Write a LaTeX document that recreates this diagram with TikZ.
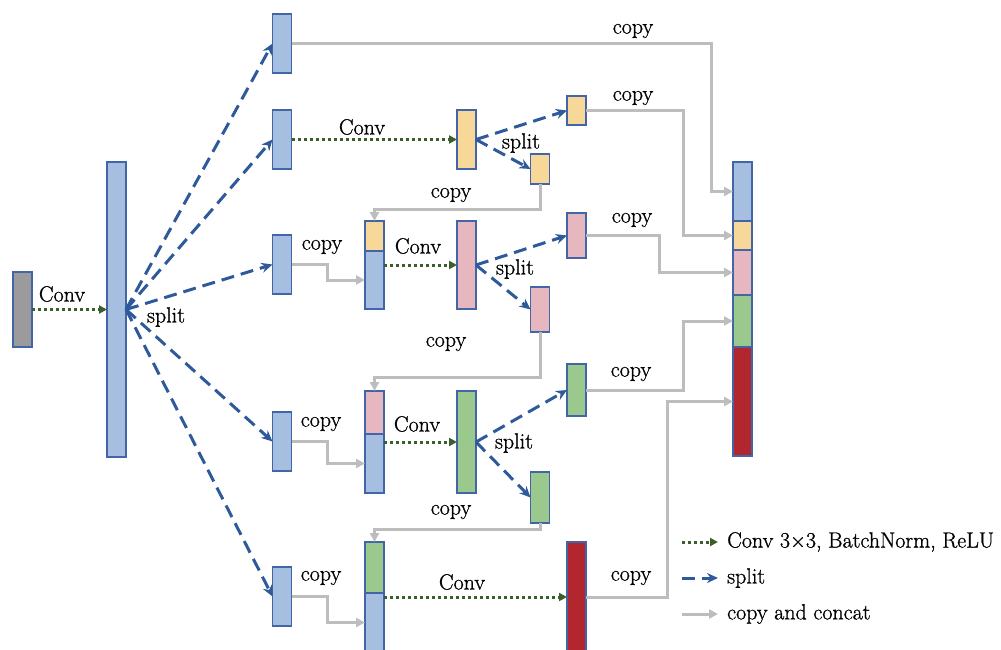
\documentclass[tikz,border=0pt]{standalone}
\usepackage{fontspec}
\setmainfont{Latin Modern Roman}[FakeBold=0.9]
\usetikzlibrary{arrows.meta}
\definecolor{bfill}{HTML}{A6BEDF}
\definecolor{bord}{HTML}{4264A8}
\definecolor{yfill}{HTML}{F8D898}
\definecolor{pfill}{HTML}{E6B7BF}
\definecolor{gfill}{HTML}{9BC88D}
\definecolor{rfill}{HTML}{B2262E}
\definecolor{kfill}{HTML}{9B9B9B}
\definecolor{cvcol}{HTML}{3A5F2A}
\definecolor{spcol}{HTML}{2E5A9C}
\definecolor{cpcol}{HTML}{BDBDBD}
\begin{document}
\begin{tikzpicture}[x=1pt,y=-1pt,
  font=\fontsize{22}{26}\selectfont,
  blk/.style={draw=bord, line width=1.3pt, inner sep=0pt, outer sep=0pt, minimum width=19pt},
  lbl/.style={inner sep=0pt},
  cp/.style={draw=cpcol, line width=3pt, -{Triangle[length=9pt,width=9pt]}},
  sp/.style={draw=spcol, line width=3pt, dash pattern=on 13pt off 7pt, -{Stealth[length=11pt,width=10pt]}},
  cv/.style={draw=cvcol, line width=3pt, dash pattern=on 3pt off 3pt, -{Triangle[length=8pt,width=8pt]}}]
\useasboundingbox (0,0) rectangle (1001,650);
% input and first conv
\node[blk, fill=kfill, minimum height=75pt] (G) at (22.5,309.5) {};
\node[blk, fill=bfill, minimum height=295pt] (big) at (116.5,309.5) {};
% split outputs
\node[blk, fill=bfill, minimum height=59pt] (A) at (282,43.5) {};
\node[blk, fill=bfill, minimum height=59pt] (B) at (282,139.5) {};
\node[blk, fill=bfill, minimum height=59pt] (C) at (282,264.5) {};
\node[blk, fill=bfill, minimum height=59pt] (D) at (282,441.5) {};
\node[blk, fill=bfill, minimum height=59pt] (E) at (282,596.5) {};
% yellow stage
\node[blk, fill=yfill, minimum height=59pt] (yb) at (466.5,139.5) {};
\node[blk, fill=yfill, minimum height=29pt] (yt) at (576.5,110.5) {};
\node[blk, fill=yfill, minimum height=30pt] (ys) at (540,169) {};
% pink stage
\node[blk, fill=yfill, minimum height=30pt] (c2y) at (374.5,236) {};
\node[blk, fill=bfill, minimum height=58pt] (c2b) at (374.5,280) {};
\node[blk, fill=pfill, minimum height=88pt] (pb) at (466.5,265) {};
\node[blk, fill=pfill, minimum height=45pt] (pt) at (576.5,235.5) {};
\node[blk, fill=pfill, minimum height=45pt] (ps) at (540,309.5) {};
% green stage
\node[blk, fill=pfill, minimum height=43pt] (c3p) at (374.5,412.5) {};
\node[blk, fill=bfill, minimum height=59pt] (c3b) at (374.5,463.5) {};
\node[blk, fill=gfill, minimum height=102pt] (gb) at (466.5,442) {};
\node[blk, fill=gfill, minimum height=52pt] (gt) at (576.5,390) {};
\node[blk, fill=gfill, minimum height=51pt] (gs) at (540,497.5) {};
% red stage
\node[blk, fill=gfill, minimum height=51pt] (c4g) at (374.5,567.5) {};
\node[blk, fill=bfill, minimum height=59pt] (c4b) at (374.5,622.5) {};
\node[blk, fill=rfill, minimum height=110pt] (rb) at (576.5,597) {};
% final concat
\node[blk, fill=bfill, minimum height=59pt] (cat1) at (742.5,191.5) {};
\node[blk, fill=yfill, minimum height=29pt] (catY) at (742.5,235.5) {};
\node[blk, fill=pfill, minimum height=45pt] (catP) at (742.5,272.5) {};
\node[blk, fill=gfill, minimum height=52pt] (catG) at (742.5,321) {};
\node[blk, fill=rfill, minimum height=109pt] (catR) at (742.5,401.5) {};
% helper coordinates
\coordinate (v1) at (711,0);
\coordinate (v2) at (683,0);
\coordinate (v3) at (659,0);
\coordinate (v5) at (667,0);
\coordinate (vc) at (327,0);
\coordinate (h1) at (0,209);
\coordinate (h2) at (0,377);
\coordinate (h3) at (0,529);
% copy connectors
\draw[cp] (A.east) -| (v1 |- cat1.west) -- (cat1.west);
\draw[cp] (yt.east) -| (v2 |- catY.west) -- (catY.west);
\draw[cp] (pt.east) -| (v3 |- catP.west) -- (catP.west);
\draw[cp] (gt.east) -| (v2 |- catG.west) -- (catG.west);
\draw[cp] (rb.east) -| (v5 |- catR.west) -- (catR.west);
\draw[cp] (ys.south) |- (c2y.north |- h1) -- (c2y.north);
\draw[cp] (ps.south) |- (c3p.north |- h2) -- (c3p.north);
\draw[cp] (gs.south) |- (c4g.north |- h3) -- (c4g.north);
\draw[cp] (C.east) -| (vc |- c2b.west) -- (c2b.west);
\draw[cp] (D.east) -| (vc |- c3b.west) -- (c3b.west);
\draw[cp] (E.east) -| (vc |- c4b.west) -- (c4b.west);
% conv connectors
\draw[cv] (G.east) -- (big.west);
\draw[cv] (B.east) -- (yb.west);
\draw[cv] (c2b.east |- pb.west) -- (pb.west);
\draw[cv] (c3b.east |- gb.west) -- (gb.west);
\draw[cv] (c4b.east |- rb.west) -- (rb.west);
% split connectors
\foreach \t in {A,B,C,D,E} \draw[sp] (big.east) -- (\t.west);
\draw[sp] (yb.east) -- (yt.west);
\draw[sp] (yb.east) -- (ys.west);
\draw[sp] (pb.east) -- (pt.west);
\draw[sp] (pb.east) -- (ps.west);
\draw[sp] (gb.east) -- (gt.west);
\draw[sp] (gb.east) -- (gs.west);
% labels
\node[lbl] (L1) at (62,294) {Conv};
\node[lbl] (L2) at (166,317) {split};
\node[lbl] (L3) at (633,31) {copy};
\node[lbl] (L4) at (633,98) {copy};
\node[lbl] (L5) at (362,127) {Conv};
\node[lbl] (L6) at (521,143) {split};
\node[lbl] (L7) at (451,195) {copy};
\node[lbl] (L8) at (322,247) {copy};
\node[lbl] (L9) at (418,246) {Conv};
\node[lbl] (L10) at (515,269) {split};
\node[lbl] (L11) at (632,220) {copy};
\node[lbl] (L12) at (446,344) {copy};
\node[lbl] (L13) at (321,424) {copy};
\node[lbl] (L14) at (417,424) {Conv};
\node[lbl] (L15) at (514,443) {split};
\node[lbl] (L16) at (631,374) {copy};
\node[lbl] (L17) at (451,512) {copy};
\node[lbl] (L18) at (321,578) {copy};
\node[lbl] (L19) at (462,582) {Conv};
\node[lbl] (L20) at (631,578) {copy};
% legend
\coordinate (g1a) at (682,542);
\coordinate (g1b) at (718,542);
\coordinate (g2a) at (682,578);
\coordinate (g2b) at (718,578);
\coordinate (g3a) at (682,614);
\coordinate (g3b) at (718,614);
\draw[cv] (g1a) -- (g1b);
\draw[sp] (g2a) -- (g2b);
\draw[cp] (g3a) -- (g3b);
\node[lbl, anchor=west] (T1) at (727,542) {Conv 3×3, BatchNorm, ReLU};
\node[lbl, anchor=west] (T2) at (727,578) {split};
\node[lbl, anchor=west] (T3) at (727,614) {copy and concat};
\end{tikzpicture}
\end{document}
